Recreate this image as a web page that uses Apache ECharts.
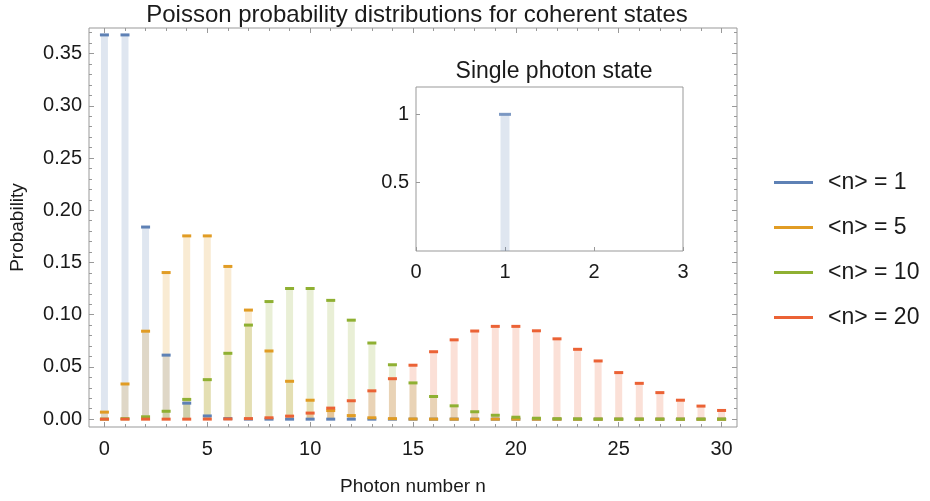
<!DOCTYPE html>
<html>
<head>
<meta charset="utf-8">
<title>Poisson probability distributions for coherent states</title>
<script src="https://cdn.jsdelivr.net/npm/echarts@6/dist/echarts.min.js"></script>
<style>
  html, body { margin: 0; padding: 0; background: #fff; }
  #chart { width: 930px; height: 501px; }
</style>
</head>
<body>
<div id="chart"></div>
<script>
// Photon numbers n = 0..30
const photonNumbers = [0, 1, 2, 3, 4, 5, 6, 7, 8, 9, 10, 11, 12, 13, 14, 15,
  16, 17, 18, 19, 20, 21, 22, 23, 24, 25, 26, 27, 28, 29, 30];

// Probability P(n) for coherent states with mean photon number <n>
const probMean1 = [0.36788, 0.36788, 0.18394, 0.06131, 0.01533, 0.00307, 0.00051,
  0.00007, 0.00001, 0, 0, 0, 0, 0, 0, 0, 0, 0, 0, 0, 0, 0, 0, 0, 0, 0, 0, 0, 0, 0, 0];
const probMean5 = [0.00674, 0.03369, 0.08422, 0.14037, 0.17547, 0.17547, 0.14622,
  0.10444, 0.06528, 0.03627, 0.01813, 0.00824, 0.00343, 0.00132, 0.00047, 0.00016,
  0.00005, 0.00001, 0, 0, 0, 0, 0, 0, 0, 0, 0, 0, 0, 0, 0];
const probMean10 = [0.00005, 0.00045, 0.00227, 0.00757, 0.01892, 0.03783, 0.06306,
  0.09008, 0.11260, 0.12511, 0.12511, 0.11374, 0.09478, 0.07291, 0.05208, 0.03472,
  0.02170, 0.01276, 0.00709, 0.00373, 0.00187, 0.00089, 0.00040, 0.00018, 0.00007,
  0.00003, 0.00001, 0, 0, 0, 0];
const probMean20 = [0, 0, 0, 0, 0.00001, 0.00005, 0.00018, 0.00052, 0.00131, 0.00291,
  0.00582, 0.01058, 0.01763, 0.02712, 0.03874, 0.05165, 0.06456, 0.07595, 0.08439,
  0.08884, 0.08884, 0.08461, 0.07691, 0.06688, 0.05574, 0.04459, 0.03430, 0.02541,
  0.01815, 0.01252, 0.00834];

// Single photon (Fock) state: P(1) = 1
const fockNumbers = [1];
const fockProb = [1];

const seriesLabels = ['<n> = 1', '<n> = 5', '<n> = 10', '<n> = 20'];
const seriesColors = ['#5E81B5', '#E19C24', '#8FB032', '#EB6235'];
const seriesFills = ['rgba(94,129,181,0.2)', 'rgba(225,156,36,0.2)',
  'rgba(143,176,50,0.2)', 'rgba(235,98,53,0.2)'];

// Axis tick positions
const xMajorTicks = [0, 5, 10, 15, 20, 25, 30];
const yMajorTicks = [0, 0.05, 0.10, 0.15, 0.20, 0.25, 0.30, 0.35];
const insetXTicks = [0, 1, 2, 3];
const insetYTicks = [0.5, 1];

const xMinorTicks = photonNumbers.slice();
const yMinorTicks = [];
for (let k = 0; k <= 37; k++) yMinorTicks.push(+(k * 0.01).toFixed(2));

const FONT = '"Liberation Sans", Arial, sans-serif';
const FRAME = '#999999';
const TEXT = '#1a1a1a';

const X_MIN = -0.75, X_MAX = 30.75;
const Y_MIN = -0.0075, Y_MAX = 0.3745;

function tickAxis(base, values, len, extra) {
  return Object.assign({
    axisLine: { show: false, onZero: false },
    splitLine: { show: false },
    axisTick: { show: true, inside: true, length: len, customValues: values,
      lineStyle: { color: FRAME, width: 1 } },
    axisLabel: { show: false }
  }, base, extra || {});
}

const xAxes = [
  tickAxis({ type: 'value', gridIndex: 0, position: 'bottom', min: X_MIN, max: X_MAX }, xMajorTicks, 5, {
    axisLabel: { show: true, customValues: xMajorTicks, margin: 12, color: TEXT,
      fontFamily: FONT, fontSize: 20 },
    name: 'Photon number n', nameLocation: 'middle', nameGap: 50,
    nameTextStyle: { color: TEXT, fontFamily: FONT, fontSize: 19 }
  }),
  tickAxis({ type: 'value', gridIndex: 0, position: 'bottom', min: X_MIN, max: X_MAX }, xMinorTicks, 3),
  tickAxis({ type: 'value', gridIndex: 0, position: 'top', min: X_MIN, max: X_MAX }, xMajorTicks, 5),
  tickAxis({ type: 'value', gridIndex: 0, position: 'top', min: X_MIN, max: X_MAX }, xMinorTicks, 3),
  tickAxis({ type: 'value', gridIndex: 1, position: 'bottom', min: 0, max: 3 }, insetXTicks, 4, {
    axisLabel: { show: true, customValues: insetXTicks, margin: 11, color: TEXT,
      fontFamily: FONT, fontSize: 20 }
  })
];

const yAxes = [
  tickAxis({ type: 'value', gridIndex: 0, position: 'left', min: Y_MIN, max: Y_MAX }, yMajorTicks, 5, {
    axisLabel: { show: true, customValues: yMajorTicks, margin: 7, color: TEXT,
      fontFamily: FONT, fontSize: 20, formatter: v => v.toFixed(2) },
    name: 'Probability', nameLocation: 'middle', nameGap: 62,
    nameTextStyle: { color: TEXT, fontFamily: FONT, fontSize: 19 }
  }),
  tickAxis({ type: 'value', gridIndex: 0, position: 'left', min: Y_MIN, max: Y_MAX }, yMinorTicks, 3),
  tickAxis({ type: 'value', gridIndex: 0, position: 'right', min: Y_MIN, max: Y_MAX }, yMajorTicks, 5),
  tickAxis({ type: 'value', gridIndex: 0, position: 'right', min: Y_MIN, max: Y_MAX }, yMinorTicks, 3),
  tickAxis({ type: 'value', gridIndex: 1, position: 'left', min: 0, max: 1.2 }, insetYTicks, 4, {
    axisLabel: { show: true, customValues: insetYTicks, margin: 7, color: TEXT,
      fontFamily: FONT, fontSize: 20, formatter: v => String(v) }
  })
];

const probSets = [probMean1, probMean5, probMean10, probMean20];
const series = [];

// Filled stems from the axis up to each probability
probSets.forEach((probs, s) => {
  series.push({
    type: 'bar', name: 'stem' + s, xAxisIndex: 0, yAxisIndex: 0,
    data: photonNumbers.map((n, i) => [n, probs[i]]),
    barWidth: 7, barGap: '-100%', silent: true, z: 2,
    itemStyle: { color: seriesFills[s] }
  });
});
// Short horizontal caps marking each probability
probSets.forEach((probs, s) => {
  series.push({
    type: 'scatter', name: seriesLabels[s], xAxisIndex: 0, yAxisIndex: 0,
    data: photonNumbers.map((n, i) => [n, probs[i]]),
    symbol: 'rect', symbolSize: [9, 3], silent: true, z: 3 + s,
    itemStyle: { color: seriesColors[s], opacity: 1 }
  });
});
// Inset: single photon state
series.push({
  type: 'bar', name: 'fockStem', xAxisIndex: 4, yAxisIndex: 4,
  data: fockNumbers.map((n, i) => [n, fockProb[i]]),
  barWidth: 9, silent: true, z: 2, itemStyle: { color: seriesFills[0] }
});
series.push({
  type: 'scatter', name: 'fockCap', xAxisIndex: 4, yAxisIndex: 4,
  data: fockNumbers.map((n, i) => [n, fockProb[i]]),
  symbol: 'rect', symbolSize: [12, 3], silent: true, z: 3,
  itemStyle: { color: seriesColors[0] }
});

const chart = echarts.init(document.getElementById('chart'), null, { renderer: 'canvas' });
chart.setOption({
  animation: false,
  backgroundColor: '#ffffff',
  title: [
    { text: 'Poisson probability distributions for coherent states', left: 412, top: -2,
      textAlign: 'center',
      textStyle: { color: TEXT, fontFamily: FONT, fontSize: 24, fontWeight: 'normal' } },
    { text: 'Single photon state', left: 549, top: 55, textAlign: 'center',
      textStyle: { color: TEXT, fontFamily: FONT, fontSize: 23, fontWeight: 'normal' } }
  ],
  legend: {
    orient: 'vertical', left: 769, top: 166, itemGap: 22,
    itemWidth: 39, itemHeight: 3, icon: 'rect',
    data: seriesLabels, selectedMode: false,
    textStyle: { color: TEXT, fontFamily: FONT, fontSize: 23, padding: [0, 0, 0, 10] }
  },
  grid: [
    { left: 88, top: 28, width: 649, height: 402, show: true,
      borderColor: FRAME, borderWidth: 1, containLabel: false },
    { left: 416, top: 87, width: 267, height: 164, show: true,
      borderColor: FRAME, borderWidth: 1, containLabel: false }
  ],
  xAxis: xAxes,
  yAxis: yAxes,
  series: series
});
</script>
</body>
</html>
